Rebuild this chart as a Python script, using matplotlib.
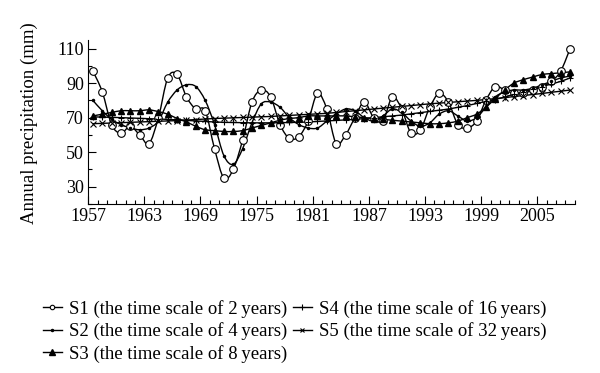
import numpy as np
import matplotlib.pyplot as plt
from matplotlib.path import Path
from matplotlib.patches import PathPatch
from matplotlib.lines import Line2D

plt.rcParams['font.family'] = ['Liberation Serif', 'DejaVu Serif']

years = np.arange(1957, 2009)

# values, one per year (1957-2008)
s1 = [97, 85, 66, 61, 65, 60, 55, 70, 93, 95, 82, 75, 74, 52, 35, 40, 57, 79, 86, 82,
      66, 58, 59, 68, 84, 75, 55, 60, 70, 79, 70, 68, 82, 75, 61, 63, 76, 84, 79, 66,
      64, 68, 80, 88, 86, 84, 84, 86, 88, 91, 97, 110]
s2 = [80, 74, 69, 66, 64, 63, 64, 68, 79, 86, 89, 88, 80, 66, 48, 43, 52, 67, 78, 79,
      76, 70, 66, 64, 64, 68, 72, 75, 74, 70, 68, 71, 75, 73, 68, 65, 67, 72, 74, 71,
      68, 70, 76, 82, 85, 86, 86, 87, 89, 91, 93, 94]
s3 = [71, 72, 73, 74, 74, 74, 74.5, 73.5, 72, 69.5, 67.5, 65, 63, 62.5, 62, 62, 62.5, 64, 65.5, 67,
      68.5, 69.5, 70, 71, 71, 71, 71, 71, 70.5, 70, 69.5, 69, 68.5, 68, 67.5, 67, 66.5, 66.5, 67, 68,
      70, 72, 76, 81, 86, 90, 92, 93.5, 95, 95.5, 96, 96.5]
s4 = [70.5, 70.3, 70.2, 70, 69.8, 69.6, 69.4, 69.2, 69, 68.7, 68.4, 68.1, 67.8, 67.5, 67.3, 67.2, 67.1, 67, 67, 67,
      67.1, 67.2, 67.3, 67.5, 67.8, 68.1, 68.4, 68.7, 69, 69.5, 70, 70.5, 71, 71.5, 72.2, 72.9, 73.6, 74.3, 75, 76,
      77, 78.2, 79.4, 80.5, 82, 83.5, 85, 86.5, 88, 89.5, 91, 93]
s5 = [66.5, 66.7, 66.9, 67.1, 67.3, 67.5, 67.7, 67.9, 68.1, 68.3, 68.6, 68.9, 69.2, 69.5, 69.7, 69.9, 70.1, 70.3, 70.5, 70.7,
      71, 71.3, 71.6, 71.9, 72.2, 72.5, 73, 73.5, 74, 74.5, 75, 75.5, 76, 76.5, 77, 77.5, 78, 78.4, 78.8, 79.2,
      79.6, 80, 80.5, 81, 81.6, 82.2, 82.8, 83.4, 84, 84.7, 85.3, 86]

labels = ['S1 (the time scale of 2\u2009years)', 'S2 (the time scale of 4\u2009years)',
          'S3 (the time scale of 8\u2009years)', 'S4 (the time scale of 16\u2009years)',
          'S5 (the time scale of 32\u2009years)']
tick_years = [1957, 1963, 1969, 1975, 1981, 1987, 1993, 1999, 2005]


def smooth_path(x, y):
    # Catmull-Rom style bezier through the points (like a spreadsheet "smoothed line")
    pts = np.column_stack([x, y])
    p = np.vstack([pts[0], pts, pts[-1]])
    verts = [pts[0]]
    codes = [Path.MOVETO]
    for i in range(1, len(p) - 2):
        c1 = p[i] + (p[i + 1] - p[i - 1]) / 6
        c2 = p[i + 1] - (p[i + 2] - p[i]) / 6
        verts += [c1, c2, p[i + 1]]
        codes += [Path.CURVE4] * 3
    return Path(verts, codes)


fig = plt.figure(figsize=(6, 3.73), dpi=100)
ax = fig.add_axes([0.147, 0.453, 0.811, 0.44])

x = years - 1957 + 0.5
styles = [dict(marker='o', ms=5.5, mfc='white', mew=0.8),
          dict(marker='.', ms=3),
          dict(marker='^', ms=5),
          dict(marker='+', ms=5, mew=0.8),
          dict(marker='x', ms=4, mew=0.8)]
leg_styles = [dict(marker='o', ms=3.2, mfc='white', mew=0.8),
              dict(marker='.', ms=3),
              dict(marker='^', ms=4),
              dict(marker='+', ms=4, mew=0.8),
              dict(marker='x', ms=3, mew=0.8)]
series = [s1, s2, s3, s4, s5]
handles = []
for s, st, lst in zip(series, styles, leg_styles):
    ax.add_patch(PathPatch(smooth_path(x, s), fill=False, lw=1.0, ec='black'))
    ax.plot(x, s, ls='none', color='black', **st)
    handles.append(Line2D([], [], color='black', lw=1.0, **lst))

ax.set_xlim(0, 52)
ax.set_ylim(20, 115)
ax.set_xticks([yr - 1957 for yr in tick_years])
ax.set_xticklabels([str(yr) for yr in tick_years])
ax.set_xticks(np.arange(0, 53), minor=True)
ax.set_yticks([30, 50, 70, 90, 110])
ax.set_yticks(np.arange(20, 115, 10), minor=True)
ax.tick_params(direction='in', length=6, width=0.8, labelsize=13, pad=3)
ax.tick_params(which='minor', direction='in', length=3, width=0.8)
ax.spines['top'].set_visible(False)
ax.spines['right'].set_visible(False)
ax.set_ylabel('Annual precipitation (mm)', fontsize=13.5, va='center')
ax.yaxis.set_label_coords(-0.12, 0.49)

fig.legend(handles, labels, loc='upper left', bbox_to_anchor=(0.059, 0.216), ncol=2,
           frameon=False, fontsize=13.5, handlelength=1.0, handletextpad=0.4,
           columnspacing=0.3, labelspacing=0.24, borderaxespad=0)

fig.savefig('out.png', dpi=100)
